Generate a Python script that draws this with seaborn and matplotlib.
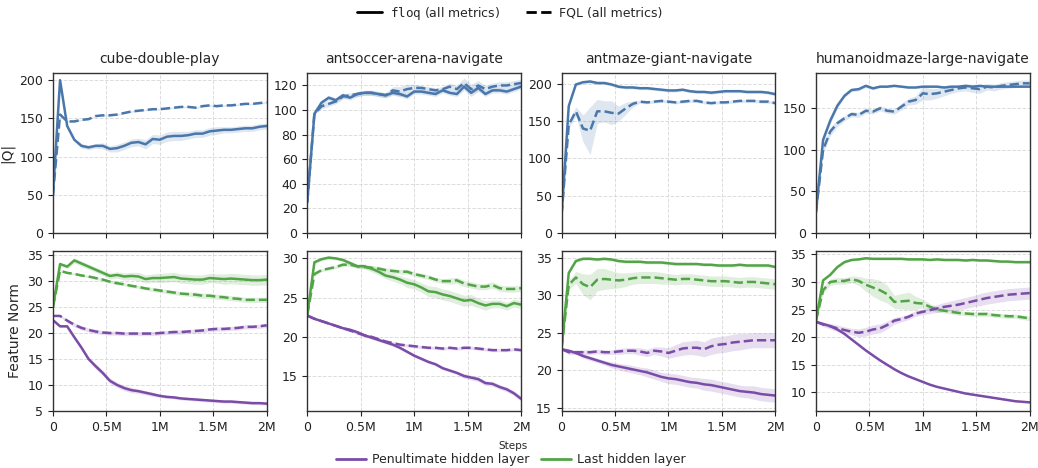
import numpy as np
import pandas as pd
import seaborn as sns
import matplotlib.pyplot as plt
from matplotlib.lines import Line2D

# env names
envs = ['cube-double-play', 'antsoccer-arena-navigate', 'antmaze-giant-navigate', 'humanoidmaze-large-navigate']

# training steps, 31 eval points
steps = np.linspace(0, 2e6, 31)

# |Q| (top row): floq = solid, FQL = dashed
q_floq_cube = [50, 200, 140, 122, 114, 112, 114, 114, 110, 111, 114, 118, 119, 116, 123, 122, 126, 127, 127, 128, 130, 130, 133, 134, 135, 135, 136, 137, 137, 139, 140]
q_fql_cube = [50, 155, 146, 146, 148, 149, 153, 154, 154, 155, 157, 159, 160, 161, 162, 162, 163, 164, 165, 165, 164, 166, 167, 166, 167, 167, 168, 169, 169, 170, 171]
q_floq_soccer = [25, 97, 106, 110, 108, 112, 110, 113, 114, 114, 113, 112, 114, 113, 111, 115, 115, 114, 113, 116, 114, 113, 119, 114, 118, 113, 116, 116, 115, 117, 119]
q_fql_soccer = [25, 97, 103, 105, 107, 111, 112, 113, 114, 114, 113, 112, 116, 115, 117, 118, 118, 117, 116, 117, 119, 117, 122, 117, 120, 117, 119, 120, 120, 121, 122]
q_floq_antmaze = [25, 170, 199, 202, 203, 201, 201, 199, 196, 195, 195, 194, 194, 193, 192, 191, 191, 192, 190, 189, 189, 188, 189, 190, 190, 190, 189, 189, 189, 188, 186]
q_fql_antmaze = [25, 145, 163, 140, 137, 163, 163, 161, 160, 167, 173, 176, 175, 176, 177, 176, 175, 176, 177, 177, 175, 174, 175, 175, 176, 177, 177, 177, 176, 176, 174]
q_floq_humanoid = [25, 112, 135, 153, 165, 172, 173, 177, 174, 176, 176, 177, 176, 175, 175, 176, 176, 176, 175, 176, 176, 177, 176, 177, 176, 176, 176, 176, 176, 176, 176]
q_fql_humanoid = [25, 100, 122, 132, 138, 143, 142, 147, 146, 150, 147, 146, 152, 158, 160, 168, 167, 168, 170, 172, 174, 175, 174, 173, 176, 175, 177, 178, 179, 180, 180]

# band half widths for |Q|
qb_floq_cube = [0, 2, 2, 2, 3, 3, 3, 4, 4, 5, 5, 5, 5, 6, 6, 6, 6, 6, 6, 5, 5, 5, 5, 5, 4, 4, 4, 4, 4, 4, 4]
qb_fql_cube = [0, 2, 1, 1, 1, 1, 1, 1, 1, 1, 1, 1, 1, 1, 1, 1, 1, 1, 1, 1, 1, 1, 1, 1, 1, 1, 1, 1, 1, 1, 1]
qb_floq_soccer = [0, 1, 2, 2, 2, 2, 2, 2, 2, 2, 2, 2, 2, 2, 2, 2, 2, 2, 2, 2, 2, 2, 3, 3, 3, 2, 2, 2, 2, 2, 2]
qb_fql_soccer = [0, 1, 2, 2, 2, 2, 2, 2, 2, 2, 2, 2, 3, 4, 4, 3, 2, 2, 2, 2, 3, 3, 4, 4, 4, 3, 3, 3, 3, 3, 3]
qb_floq_antmaze = [0, 2, 2, 2, 2, 2, 2, 2, 2, 2, 2, 2, 2, 2, 2, 2, 2, 2, 2, 2, 2, 2, 2, 2, 2, 2, 2, 2, 2, 2, 2]
qb_fql_antmaze = [0, 5, 6, 18, 32, 16, 14, 16, 10, 8, 4, 2, 2, 2, 2, 2, 2, 2, 2, 2, 2, 2, 2, 2, 2, 2, 2, 2, 2, 2, 2]
qb_floq_humanoid = [0, 3, 4, 3, 2, 2, 2, 2, 2, 1, 1, 1, 1, 1, 1, 1, 1, 1, 1, 1, 1, 1, 1, 1, 1, 1, 1, 1, 1, 1, 1]
qb_fql_humanoid = [0, 4, 5, 4, 3, 3, 3, 3, 3, 3, 3, 3, 4, 4, 5, 8, 7, 6, 5, 4, 4, 4, 5, 5, 4, 4, 4, 4, 4, 4, 4]

# feature norm (bottom row): pen = penultimate layer, last = last layer
f_last_floq_cube = [25, 33.3, 32.8, 34.0, 33.4, 32.8, 32.2, 31.6, 31.0, 31.2, 30.9, 31.0, 30.9, 30.4, 30.6, 30.6, 30.7, 30.8, 30.5, 30.4, 30.3, 30.3, 30.6, 30.5, 30.4, 30.5, 30.4, 30.3, 30.2, 30.2, 30.3]
f_last_fql_cube = [25, 32.0, 31.6, 31.4, 31.1, 30.9, 30.6, 30.3, 29.9, 29.6, 29.4, 29.1, 28.9, 28.6, 28.4, 28.2, 28.0, 27.8, 27.6, 27.5, 27.4, 27.2, 27.2, 27.0, 26.9, 26.7, 26.6, 26.4, 26.4, 26.4, 26.4]
f_pen_floq_cube = [22.5, 21.3, 21.3, 19.2, 17.2, 15.0, 13.6, 12.3, 10.8, 10.0, 9.4, 9.0, 8.8, 8.5, 8.2, 7.9, 7.7, 7.6, 7.4, 7.3, 7.2, 7.1, 7.0, 6.9, 6.8, 6.8, 6.7, 6.6, 6.5, 6.5, 6.4]
f_pen_fql_cube = [23.3, 23.3, 22.4, 21.6, 21.0, 20.6, 20.3, 20.1, 20.0, 20.0, 19.9, 19.9, 19.9, 19.9, 19.9, 20.0, 20.1, 20.2, 20.2, 20.3, 20.4, 20.5, 20.7, 20.8, 20.8, 20.9, 21.0, 21.2, 21.2, 21.3, 21.5]

f_last_floq_soccer = [22.8, 29.5, 29.9, 30.1, 30.0, 29.8, 29.4, 29.0, 29.0, 28.7, 28.3, 27.8, 27.6, 27.3, 26.9, 26.7, 26.3, 25.8, 25.7, 25.4, 25.2, 24.9, 24.6, 24.7, 24.3, 24.0, 24.2, 24.2, 23.9, 24.3, 24.1]
f_last_fql_soccer = [22.8, 28.0, 28.5, 28.7, 28.9, 29.2, 29.2, 29.0, 28.9, 28.8, 28.7, 28.5, 28.4, 28.3, 28.3, 28.0, 27.8, 27.6, 27.3, 27.1, 27.1, 27.2, 26.8, 26.6, 26.4, 26.4, 26.6, 26.2, 26.1, 26.1, 26.2]
f_pen_floq_soccer = [22.7, 22.3, 22.0, 21.7, 21.4, 21.1, 20.9, 20.6, 20.2, 19.9, 19.6, 19.3, 19.0, 18.6, 18.1, 17.6, 17.2, 16.8, 16.5, 16.0, 15.7, 15.4, 15.0, 14.8, 14.6, 14.1, 14.0, 13.6, 13.3, 12.8, 12.1]
f_pen_fql_soccer = [22.7, 22.3, 22.0, 21.7, 21.4, 21.1, 20.8, 20.5, 20.2, 20.0, 19.7, 19.4, 19.2, 19.0, 18.9, 18.8, 18.7, 18.6, 18.6, 18.5, 18.6, 18.5, 18.6, 18.6, 18.5, 18.4, 18.3, 18.3, 18.3, 18.4, 18.3]

f_last_floq_antmaze = [23, 33.0, 34.6, 34.9, 34.9, 34.8, 34.9, 34.8, 34.6, 34.5, 34.5, 34.5, 34.4, 34.4, 34.4, 34.3, 34.2, 34.2, 34.2, 34.2, 34.1, 34.1, 34.0, 34.0, 34.0, 34.1, 34.0, 34.0, 34.0, 34.0, 33.8]
f_last_fql_antmaze = [23, 31.4, 32.4, 31.5, 31.1, 32.1, 32.2, 32.1, 32.0, 32.1, 32.3, 32.4, 32.4, 32.4, 32.3, 32.2, 32.1, 32.2, 32.2, 32.1, 32.0, 31.9, 31.9, 31.9, 31.8, 31.7, 31.8, 31.8, 31.7, 31.6, 31.5]
f_pen_floq_antmaze = [22.8, 22.6, 22.3, 21.9, 21.6, 21.3, 21.0, 20.7, 20.5, 20.3, 20.1, 19.9, 19.7, 19.4, 19.1, 18.9, 18.8, 18.6, 18.4, 18.3, 18.1, 18.0, 17.8, 17.6, 17.4, 17.2, 17.1, 17.0, 16.8, 16.7, 16.6]
f_pen_fql_antmaze = [22.8, 22.4, 22.4, 22.4, 22.4, 22.5, 22.4, 22.4, 22.5, 22.6, 22.6, 22.5, 22.3, 22.6, 22.5, 22.3, 22.6, 22.9, 23.0, 23.0, 22.8, 23.2, 23.4, 23.5, 23.7, 23.8, 23.9, 24.0, 24.0, 24.0, 24.0]

f_last_floq_humanoid = [23, 30.3, 31.3, 32.7, 33.6, 34.0, 34.1, 34.3, 34.2, 34.2, 34.2, 34.2, 34.2, 34.1, 34.1, 34.1, 34.0, 34.1, 34.0, 34.0, 34.0, 33.9, 34.0, 33.9, 33.9, 33.8, 33.7, 33.7, 33.6, 33.6, 33.6]
f_last_fql_humanoid = [23, 28.5, 30.0, 30.2, 30.2, 30.5, 30.2, 29.5, 29.0, 28.5, 27.8, 26.4, 26.5, 26.6, 26.2, 26.1, 25.5, 25.0, 24.8, 24.6, 24.4, 24.3, 24.2, 24.2, 24.2, 24.0, 23.9, 23.8, 23.8, 23.6, 23.4]
f_pen_floq_humanoid = [22.8, 22.4, 22.0, 21.4, 20.6, 19.6, 18.6, 17.6, 16.7, 15.8, 15.0, 14.2, 13.5, 12.9, 12.4, 11.9, 11.4, 11.0, 10.7, 10.4, 10.1, 9.8, 9.6, 9.4, 9.2, 9.0, 8.8, 8.6, 8.4, 8.3, 8.2]
f_pen_fql_humanoid = [22.8, 22.3, 22.0, 21.6, 21.3, 21.0, 20.8, 21.0, 21.4, 21.6, 22.2, 23.0, 23.3, 23.7, 24.3, 24.6, 24.9, 25.2, 25.5, 25.7, 25.9, 26.2, 26.5, 26.8, 27.1, 27.3, 27.5, 27.7, 27.8, 27.9, 28.0]

# band half widths for feature norms
fb_last_floq_cube = [0, 0.3, 0.4, 0.5, 0.5, 0.5, 0.5, 0.5, 0.6, 0.6, 0.7, 0.7, 0.8, 0.8, 0.8, 0.9, 0.9, 0.9, 0.9, 0.9, 0.9, 0.9, 0.9, 0.9, 1.0, 1.0, 1.0, 1.0, 1.0, 1.0, 1.0]
fb_last_fql_cube = [0, 0.2, 0.2, 0.2, 0.2, 0.2, 0.3, 0.3, 0.3, 0.3, 0.3, 0.3, 0.3, 0.3, 0.4, 0.4, 0.4, 0.4, 0.4, 0.4, 0.5, 0.5, 0.5, 0.5, 0.5, 0.5, 0.5, 0.5, 0.5, 0.5, 0.5]
fb_pen_floq_cube = [0, 0.2, 0.2, 0.3, 0.4, 0.4, 0.5, 0.5, 0.5, 0.5, 0.5, 0.5, 0.4, 0.4, 0.4, 0.3, 0.3, 0.3, 0.3, 0.3, 0.3, 0.3, 0.3, 0.3, 0.3, 0.3, 0.3, 0.3, 0.3, 0.3, 0.3]
fb_pen_fql_cube = [0, 0.2, 0.3, 0.4, 0.4, 0.4, 0.4, 0.4, 0.4, 0.4, 0.4, 0.4, 0.4, 0.4, 0.4, 0.4, 0.4, 0.4, 0.4, 0.4, 0.4, 0.4, 0.4, 0.4, 0.4, 0.4, 0.4, 0.4, 0.4, 0.4, 0.4]

fb_last_floq_soccer = [0, 0.2, 0.2, 0.2, 0.2, 0.2, 0.3, 0.3, 0.3, 0.4, 0.4, 0.4, 0.5, 0.5, 0.6, 0.6, 0.6, 0.7, 0.7, 0.7, 0.7, 0.7, 0.7, 0.7, 0.6, 0.6, 0.5, 0.5, 0.5, 0.5, 0.5]
fb_last_fql_soccer = [0, 0.2, 0.2, 0.2, 0.2, 0.2, 0.2, 0.2, 0.2, 0.3, 0.3, 0.3, 0.3, 0.3, 0.3, 0.3, 0.3, 0.3, 0.3, 0.3, 0.4, 0.4, 0.4, 0.4, 0.4, 0.4, 0.4, 0.4, 0.4, 0.4, 0.4]
fb_pen_floq_soccer = [0, 0.1, 0.1, 0.1, 0.1, 0.2, 0.2, 0.2, 0.2, 0.2, 0.2, 0.2, 0.2, 0.2, 0.2, 0.2, 0.2, 0.2, 0.2, 0.2, 0.2, 0.2, 0.3, 0.3, 0.3, 0.3, 0.3, 0.3, 0.3, 0.3, 0.3]
fb_pen_fql_soccer = [0, 0.1, 0.1, 0.1, 0.1, 0.1, 0.1, 0.2, 0.2, 0.2, 0.2, 0.2, 0.2, 0.2, 0.2, 0.2, 0.2, 0.2, 0.2, 0.2, 0.2, 0.2, 0.2, 0.2, 0.2, 0.2, 0.2, 0.2, 0.2, 0.2, 0.2]

fb_last_floq_antmaze = [0, 0.2, 0.2, 0.2, 0.2, 0.2, 0.2, 0.2, 0.2, 0.2, 0.2, 0.2, 0.2, 0.2, 0.2, 0.2, 0.2, 0.2, 0.2, 0.2, 0.2, 0.2, 0.2, 0.2, 0.2, 0.2, 0.2, 0.2, 0.2, 0.2, 0.2]
fb_last_fql_antmaze = [0, 0.6, 0.8, 1.4, 1.7, 1.5, 1.4, 1.2, 1.0, 0.9, 0.8, 0.8, 0.8, 0.8, 0.8, 0.7, 0.7, 0.7, 0.7, 0.7, 0.7, 0.7, 0.7, 0.7, 0.7, 0.7, 0.7, 0.7, 0.7, 0.7, 0.7]
fb_pen_floq_antmaze = [0, 0.2, 0.2, 0.3, 0.3, 0.3, 0.3, 0.4, 0.4, 0.5, 0.5, 0.5, 0.6, 0.6, 0.6, 0.7, 0.7, 0.7, 0.7, 0.7, 0.8, 0.8, 0.8, 0.8, 0.8, 0.8, 0.8, 0.9, 0.9, 0.9, 0.9]
fb_pen_fql_antmaze = [0, 0.3, 0.3, 0.3, 0.3, 0.3, 0.3, 0.3, 0.4, 0.4, 0.4, 0.5, 0.5, 0.5, 0.6, 0.7, 0.8, 0.9, 0.9, 1.0, 1.0, 1.1, 1.1, 1.1, 1.1, 1.1, 1.0, 1.0, 1.0, 1.0, 1.0]

fb_last_floq_humanoid = [0, 0.2, 0.2, 0.2, 0.2, 0.2, 0.2, 0.2, 0.2, 0.2, 0.2, 0.2, 0.2, 0.2, 0.2, 0.2, 0.2, 0.2, 0.2, 0.2, 0.2, 0.2, 0.2, 0.2, 0.2, 0.2, 0.2, 0.2, 0.2, 0.2, 0.2]
fb_last_fql_humanoid = [0, 0.6, 0.6, 0.6, 0.6, 0.6, 0.8, 1.2, 1.6, 1.8, 1.6, 1.2, 1.4, 1.6, 1.2, 0.8, 0.6, 0.5, 0.4, 0.4, 0.4, 0.4, 0.4, 0.4, 0.4, 0.4, 0.4, 0.4, 0.4, 0.4, 0.4]
fb_pen_floq_humanoid = [0, 0.1, 0.1, 0.1, 0.1, 0.1, 0.1, 0.1, 0.1, 0.1, 0.1, 0.1, 0.1, 0.1, 0.1, 0.1, 0.1, 0.1, 0.1, 0.1, 0.1, 0.1, 0.1, 0.1, 0.1, 0.1, 0.1, 0.1, 0.1, 0.1, 0.1]
fb_pen_fql_humanoid = [0, 0.4, 0.5, 0.6, 0.6, 0.6, 0.7, 0.8, 0.8, 0.8, 0.7, 0.6, 0.5, 0.5, 0.5, 0.5, 0.6, 0.7, 0.8, 0.9, 1.0, 1.0, 1.0, 1.1, 1.1, 1.1, 1.1, 1.1, 1.1, 1.1, 1.1]

# axis limits / ticks per panel
top_ylims = [(0, 210), (0, 130.5), (0, 215), (0, 193)]
top_yticks = [[0, 50, 100, 150, 200], [0, 20, 40, 60, 80, 100, 120], [0, 50, 100, 150, 200], [0, 50, 100, 150]]
bottom_ylims = [(5, 35.9), (10.55, 31.0), (14.55, 36.0), (6.65, 35.7)]
bottom_yticks = [[5, 10, 15, 20, 25, 30, 35], [15, 20, 25, 30], [15, 20, 25, 30, 35], [10, 15, 20, 25, 30, 35]]
xtick_labels = ['0', '0.5M', '1M', '1.5M', '2M']

blue = '#4a77ab'
green = '#52a447'
purple = '#7a4ca8'

sns.set_style('ticks')
plt.rcParams['font.family'] = ['DejaVu Sans']

q_series = [
    (q_floq_cube, qb_floq_cube, q_fql_cube, qb_fql_cube),
    (q_floq_soccer, qb_floq_soccer, q_fql_soccer, qb_fql_soccer),
    (q_floq_antmaze, qb_floq_antmaze, q_fql_antmaze, qb_fql_antmaze),
    (q_floq_humanoid, qb_floq_humanoid, q_fql_humanoid, qb_fql_humanoid),
]
f_series = [
    [(f_last_floq_cube, fb_last_floq_cube, green, '-'), (f_last_fql_cube, fb_last_fql_cube, green, '--'),
     (f_pen_floq_cube, fb_pen_floq_cube, purple, '-'), (f_pen_fql_cube, fb_pen_fql_cube, purple, '--')],
    [(f_last_floq_soccer, fb_last_floq_soccer, green, '-'), (f_last_fql_soccer, fb_last_fql_soccer, green, '--'),
     (f_pen_floq_soccer, fb_pen_floq_soccer, purple, '-'), (f_pen_fql_soccer, fb_pen_fql_soccer, purple, '--')],
    [(f_last_floq_antmaze, fb_last_floq_antmaze, green, '-'), (f_last_fql_antmaze, fb_last_fql_antmaze, green, '--'),
     (f_pen_floq_antmaze, fb_pen_floq_antmaze, purple, '-'), (f_pen_fql_antmaze, fb_pen_fql_antmaze, purple, '--')],
    [(f_last_floq_humanoid, fb_last_floq_humanoid, green, '-'), (f_last_fql_humanoid, fb_last_fql_humanoid, green, '--'),
     (f_pen_floq_humanoid, fb_pen_floq_humanoid, purple, '-'), (f_pen_fql_humanoid, fb_pen_fql_humanoid, purple, '--')],
]

fig, axes = plt.subplots(2, 4, figsize=(10.38, 4.68), dpi=100)
plt.subplots_adjust(left=0.051, right=0.992, top=0.845, bottom=0.122, wspace=0.19, hspace=0.11)


def draw(ax, y, band, color, ls):
    y = np.array(y, dtype=float)
    band = np.array(band, dtype=float)
    ax.fill_between(steps, y - band, y + band, color=color, alpha=0.18, linewidth=0)
    sns.lineplot(x=steps, y=y, ax=ax, color=color, linestyle=ls, linewidth=1.8)


def style(ax, ylim, yticks):
    ax.set_xlim(0, 2e6)
    ax.set_ylim(*ylim)
    ax.set_xticks([0, 0.5e6, 1e6, 1.5e6, 2e6])
    ax.set_yticks(yticks)
    ax.grid(True, linestyle='--', color='#d9d9d9', linewidth=0.7, alpha=0.9)
    ax.tick_params(labelsize=9, length=3.5, width=0.8, colors='#222222')
    for s in ax.spines.values():
        s.set_color('#333333')
        s.set_linewidth(1.0)
    ax.set_xlabel('')
    ax.set_ylabel('')


for i in range(4):
    ax = axes[0, i]
    floq, fb, fql, qb = q_series[i]
    draw(ax, floq, fb, blue, '-')
    draw(ax, fql, qb, blue, '--')
    style(ax, top_ylims[i], top_yticks[i])
    ax.set_xticklabels([])
    ax.set_title(envs[i], fontsize=10, pad=7)

    ax = axes[1, i]
    for y, band, c, ls in f_series[i]:
        draw(ax, y, band, c, ls)
    style(ax, bottom_ylims[i], bottom_yticks[i])
    ax.set_xticklabels(xtick_labels)

axes[0, 0].set_ylabel('|Q|', fontsize=10)
axes[1, 0].set_ylabel('Feature Norm', fontsize=10)

top_handles = [Line2D([], [], color='black', lw=2, ls='-'), Line2D([], [], color='black', lw=2, ls='--')]
fig.legend(top_handles, [r'$\mathtt{floq}$ (all metrics)', 'FQL (all metrics)'],
           loc='center', bbox_to_anchor=(0.491, 0.972), ncol=2, frameon=False, fontsize=9,
           handlelength=2.0, handletextpad=0.7, columnspacing=2.0)

fig.text(0.494, 0.048, 'Steps', ha='center', va='center', fontsize=7.5)
bottom_handles = [Line2D([], [], color=purple, lw=2), Line2D([], [], color=green, lw=2)]
fig.legend(bottom_handles, ['Penultimate hidden layer', 'Last hidden layer'],
           loc='center', bbox_to_anchor=(0.492, 0.018), ncol=2, frameon=False, fontsize=9,
           handlelength=2.4, handletextpad=0.5, columnspacing=0.9)

fig.savefig('out.png', dpi=100)
